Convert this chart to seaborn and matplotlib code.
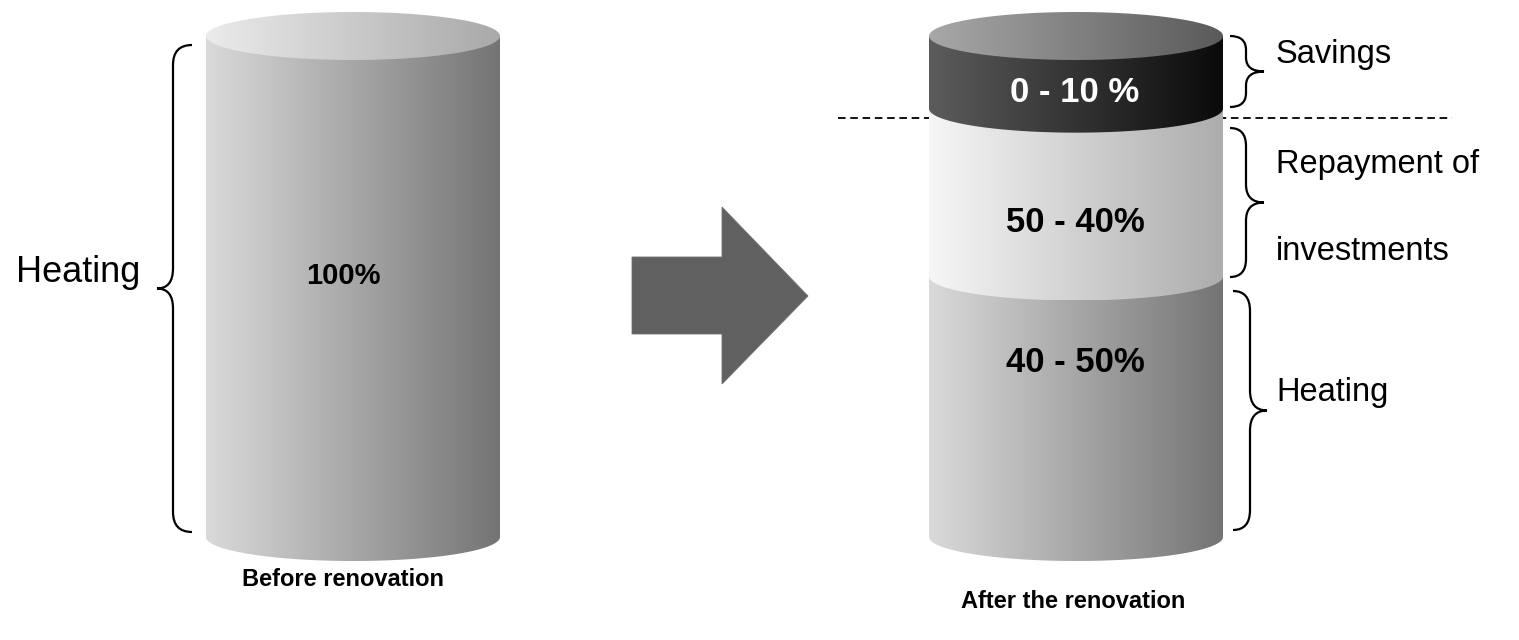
import numpy as np
import matplotlib
matplotlib.use("Agg")
import matplotlib.pyplot as plt
from matplotlib.path import Path
from matplotlib.patches import PathPatch, Polygon
import seaborn as sns

# ---- data -------------------------------------------------------------
before_shares = [100]
before_texts = ["100%"]
before_side = ["Heating"]

after_shares = [52, 33.5, 14.5]          # heating, repayment, savings (bottom -> top)
after_texts = ["40 - 50%", "50 - 40%", "0 - 10 %"]
after_side = ["Heating", "Repayment of\n\ninvestments", "Savings"]

titles = ["Before renovation", "After the renovation"]

# ---- style ------------------------------------------------------------
sns.set_theme(style="white")
plt.rcParams['font.family'] = ['Liberation Sans', 'DejaVu Sans']
plt.rcParams['text.color'] = 'black'

W, H = 1519, 640
BASE = 537.0          # pixel row of the cylinder floor
PX = 5.01             # pixels per percentage point
RX, RY_PX = 147.0, 24.0
RY = RY_PX / PX

body_grey = ("#dadada", "#747474")
light_grey = ("#f6f6f6", "#adadad")
dark_grey = ("#5c5c5c", "#0a0a0a")
top_light = ("#ebebeb", "#a9a9a9")
top_dark = ("#a8a8a8", "#5a5a5a")


def yv(p):
    """pixel row -> value units on the y axis"""
    return (BASE - p) / PX


fig = plt.figure(figsize=(W / 100, H / 100), dpi=100)
ax = fig.add_axes([0, 0, 1, 1])
ax.set_axis_off()


def gradient_fill(path, x0, x1, y0, y1, cols, z):
    cmap = sns.blend_palette(list(cols), as_cmap=True)
    grad = np.linspace(0, 1, 256).reshape(1, -1)
    im = ax.imshow(grad, extent=(x0, x1, y0, y1), cmap=cmap, aspect="auto",
                   interpolation="bicubic", zorder=z)
    patch = PathPatch(path, facecolor="none", edgecolor="none", transform=ax.transData)
    ax.add_patch(patch)
    im.set_clip_path(patch)


def band_path(cx, y0, y1):
    th = np.linspace(np.pi, 2 * np.pi, 120)
    xs = [cx - RX] + list(cx + RX * np.cos(th)) + [cx + RX, cx - RX]
    ys = [y1] + list(y0 + RY * np.sin(th)) + [y1, y1]
    return Path(np.column_stack([xs, ys]))


def ellipse_path(cx, yc):
    th = np.linspace(0, 2 * np.pi, 200)
    return Path(np.column_stack([cx + RX * np.cos(th), yc + RY * np.sin(th)]))


def cylinder(cx, shares, band_cols, top_cols, z0):
    bottom = 0.0
    for i, (share, cols) in enumerate(zip(shares, band_cols)):
        top = bottom + share
        gradient_fill(band_path(cx, bottom, top), cx - RX, cx + RX,
                      bottom - RY, top + 0.5, cols, z0 + i)
        bottom = top
    gradient_fill(ellipse_path(cx, bottom), cx - RX, cx + RX,
                  bottom - RY, bottom + RY, top_cols, z0 + len(shares))


def brace(xv, yt, yb, end, tip, r, ym=None):
    """curly brace in pixel space; end/tip are signed horizontal offsets"""
    if ym is None:
        ym = (yt + yb) / 2
    pts = [(xv + end, yt), (xv, yt), (xv, yt + r),
           (xv, ym - r), (xv, ym), (xv + tip, ym),
           (xv, ym), (xv, ym + r),
           (xv, yb - r), (xv, yb), (xv + end, yb)]
    codes = [Path.MOVETO, Path.CURVE3, Path.CURVE3,
             Path.LINETO, Path.CURVE3, Path.CURVE3,
             Path.CURVE3, Path.CURVE3,
             Path.LINETO, Path.CURVE3, Path.CURVE3]
    verts = [(x, yv(y)) for x, y in pts]
    ax.add_patch(PathPatch(Path(verts, codes), facecolor="none",
                           edgecolor="black", lw=1.6, zorder=20))


# ---- cylinders --------------------------------------------------------
CX_L, CX_R = 353.0, 1076.0
cylinder(CX_L, before_shares, [body_grey], top_light, 5)
cylinder(CX_R, after_shares, [body_grey, light_grey, dark_grey], top_dark, 5)

# dashed separator through the savings boundary
sep = sum(after_shares[:2]) - 9 / PX
ax.plot([838, 1452], [sep, sep], color="black", lw=1.3,
        linestyle=(0, (4.2, 2.6)), zorder=2)

# ---- arrow ------------------------------------------------------------
arrow_px = [(632, 257), (722, 257), (722, 207), (808, 296),
            (722, 384), (722, 334), (632, 334)]
ax.add_patch(Polygon([(x, yv(y)) for x, y in arrow_px], closed=True,
                     facecolor="#606060", edgecolor="#707070", lw=0.6, zorder=3))

# ---- braces -----------------------------------------------------------
brace(173, 45, 532, 19, -16, 20)
brace(1246, 36, 107, -16, 18, 14)
brace(1246, 128, 277, -16, 18, 18)
brace(1250, 291, 530, -17, 17, 20)

# ---- text -------------------------------------------------------------
ax.text(140, yv(273), before_side[0], ha="right", va="center", fontsize=26, zorder=30)
ax.text(343, yv(276), before_texts[0], ha="center", va="center",
        fontsize=21, fontweight="bold", zorder=30)

val_rows = [362, 222, 93]
val_cols = ["black", "black", "white"]
for t, row, c in zip(after_texts, val_rows, val_cols):
    ax.text(1075, yv(row), t, ha="center", va="center", fontsize=25,
            fontweight="bold", color=c, zorder=30)

side_rows = [392, 208, 55]
for t, row in zip(after_side, side_rows):
    ax.text(1276, yv(row), t, ha="left", va="center", fontsize=23.5,
            linespacing=1.5, zorder=30)

ax.text(343, yv(580), titles[0], ha="center", va="center", fontsize=17,
        fontweight="bold", zorder=30)
ax.text(1073, yv(602), titles[1], ha="center", va="center", fontsize=17,
        fontweight="bold", zorder=30)

ax.set_xlim(0, W)
ax.set_ylim(yv(H), yv(0))
fig.savefig("out.png", dpi=100, facecolor="white")
